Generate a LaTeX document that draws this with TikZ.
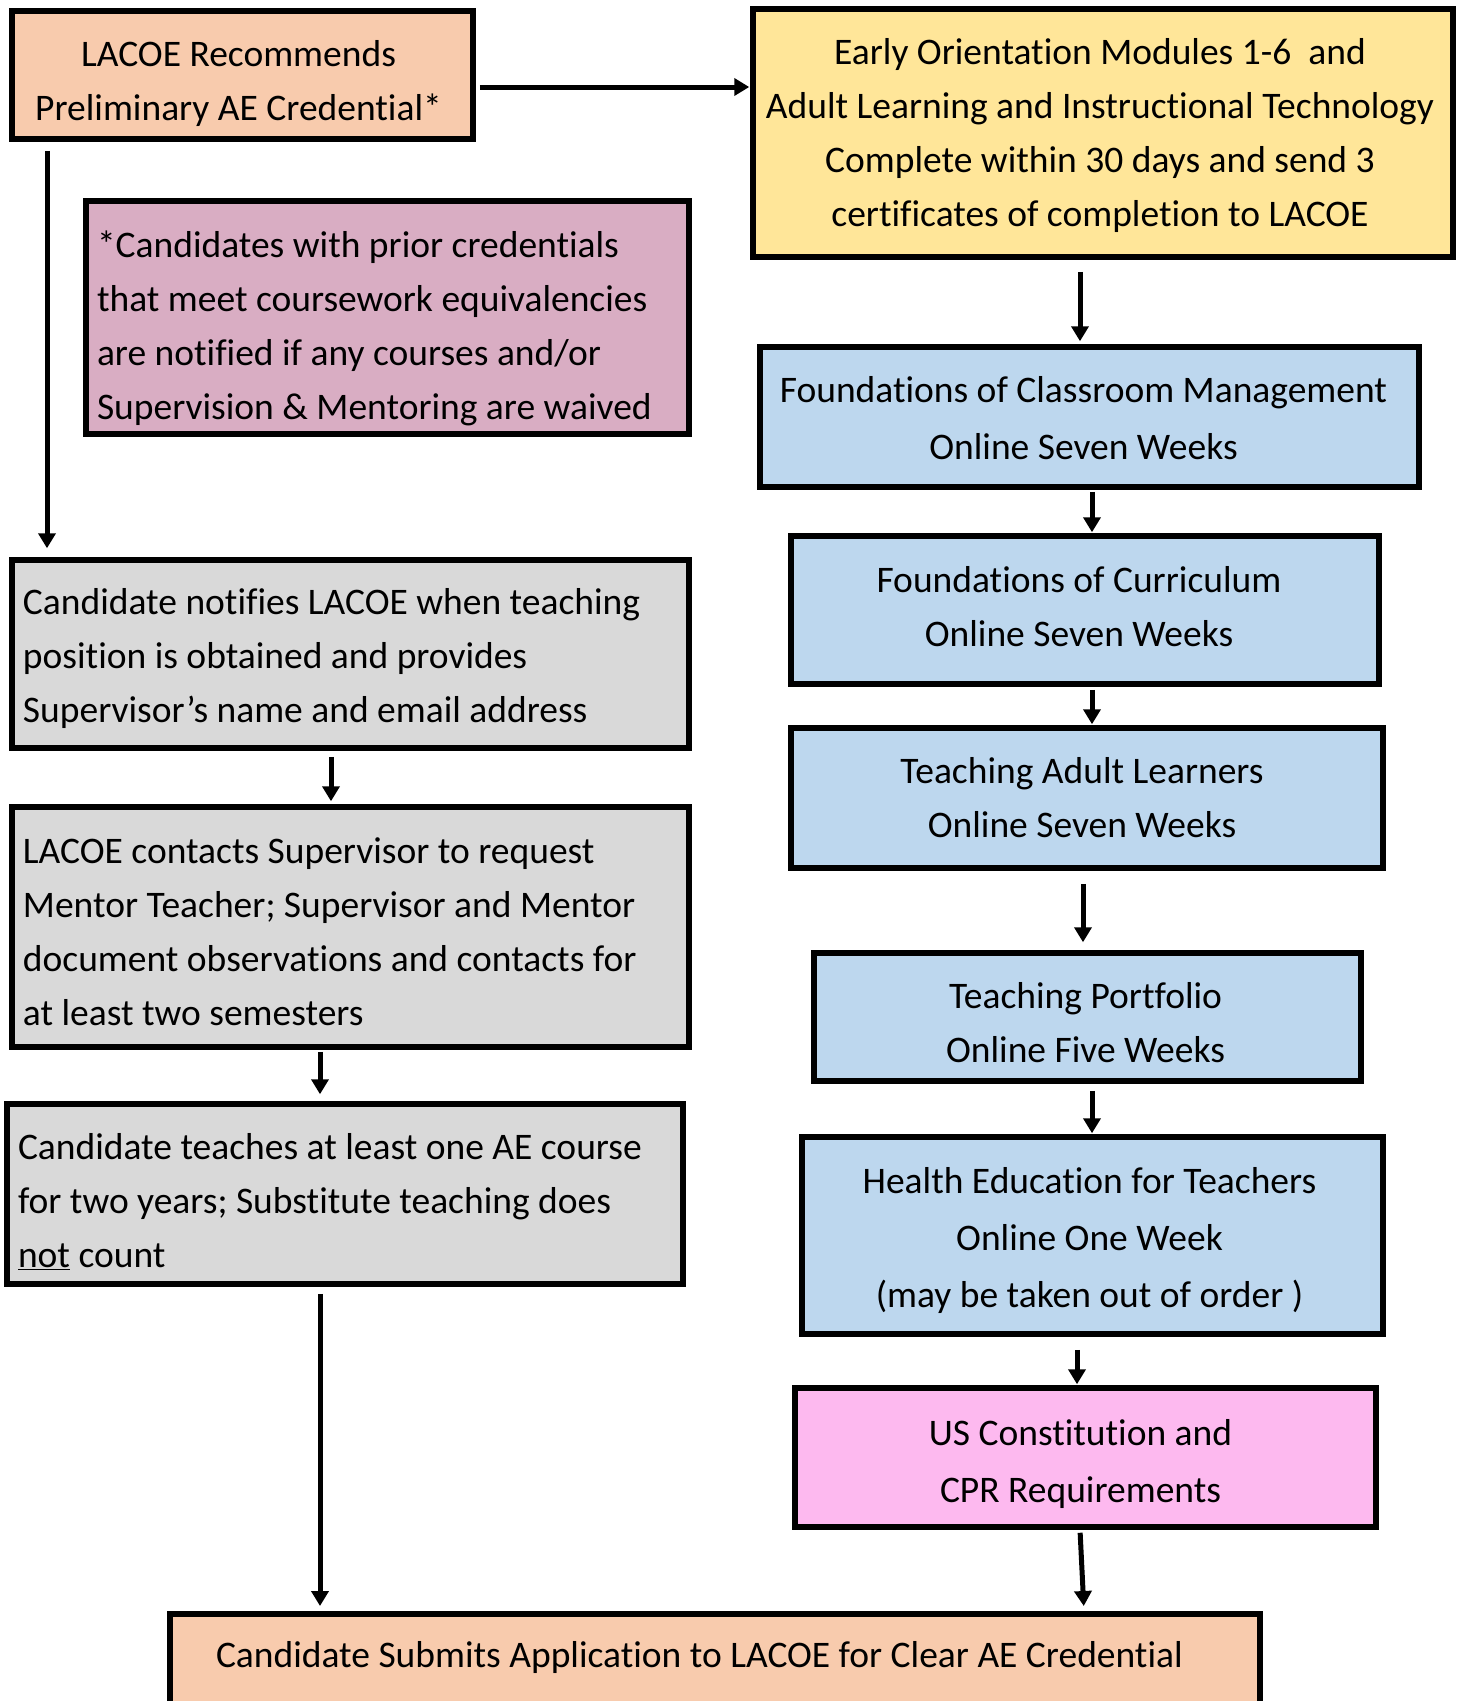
\documentclass[tikz,border=0pt]{standalone}
\usepackage{fontspec}
\setmainfont{Carlito}[Ligatures={NoCommon}]
\usetikzlibrary{arrows.meta}
\definecolor{peach}{HTML}{F8CBAD}
\definecolor{yel}{HTML}{FFE699}
\definecolor{notepink}{RGB}{217,173,195}
\definecolor{grayf}{HTML}{D9D9D9}
\definecolor{bluef}{HTML}{BDD7EE}
\definecolor{pinkf}{HTML}{FDB9EF}
% #1 = shift down (pt), #2 = width of text block (pt), #3 = lines
\newcommand\ltext[3]{\raisebox{-#1pt}[\height][\depth]{\makebox[#2pt][l]{\begin{tabular}{@{}l@{}}#3\end{tabular}}}}
% [#1] = shift left (pt), #2 = shift down (pt), #3 = lines
\newcommand\ctext[3][0]{\raisebox{-#2pt}[\height][\depth]{\kern-#1pt\begin{tabular}{@{}c@{}}#3\end{tabular}\kern#1pt}}
\tikzset{
  box/.style={draw=black, line width=5.5pt, rectangle, inner sep=0pt,
    font=\fontsize{37.5}{54}\selectfont},
  wide/.style={font=\fontsize{37.5}{57}\selectfont},
  arr/.style={draw=black, line width=5pt, -{Triangle[length=15pt,width=17pt]}},
}
\begin{document}
\begin{tikzpicture}[x=1pt,y=-1pt]
\path[use as bounding box] (0,0) rectangle (1460,1701);
\clip (0,0) rectangle (1460,1701);
\fill[white] (0,0) rectangle (1460,1701);

% left column
\node[box, fill=peach, minimum width=461, minimum height=128] (b1) at (242.5,75)
  {\ctext[4]{7.6}{LACOE Recommends\\Preliminary AE Credential*}};
\node[box, fill=notepink, minimum width=603, minimum height=233] (note) at (387.5,317.5)
  {\ltext{9.8}{581}{*Candidates with prior credentials\\that meet coursework equivalencies\\are notified if any courses and/or\\Supervision \& Mentoring are waived}};
\node[box, fill=grayf, minimum width=677, minimum height=188] (b3) at (350.5,654)
  {\ltext{4}{655}{Candidate notifies LACOE when teaching\\position is obtained and provides\\Supervisor’s name and email address}};
\node[box, fill=grayf, minimum width=677, minimum height=240] (b4) at (350.5,927)
  {\ltext{6.8}{655}{LACOE contacts Supervisor to request\\Mentor Teacher; Supervisor and Mentor\\document observations and contacts for\\at least two semesters}};
\node[box, fill=grayf, minimum width=676, minimum height=180] (b5) at (345,1194)
  {\ltext{8.5}{654}{Candidate teaches at least one AE course\\for two years; Substitute teaching does\\\underline{not} count}};

% right column
\node[box, fill=yel, minimum width=700, minimum height=248] (b2) at (1103,133)
  {\ctext[3]{2}{Early Orientation Modules 1-6 \ and\\Adult Learning and Instructional Technology\\Complete within 30 days and send 3\\certificates of completion to LACOE}};
\node[box, wide, fill=bluef, minimum width=659, minimum height=140] (b6) at (1089.5,417)
  {\ctext[6]{3}{Foundations of Classroom Management\\Online Seven Weeks}};
\node[box, fill=bluef, minimum width=588, minimum height=148] (b7) at (1085,610)
  {\ctext[6]{-1}{Foundations of Curriculum\\Online Seven Weeks}};
\node[box, fill=bluef, minimum width=592, minimum height=140] (b8) at (1087,798)
  {\ctext[5]{2}{Teaching Adult Learners\\Online Seven Weeks}};
\node[box, fill=bluef, minimum width=547, minimum height=128] (b9) at (1087.5,1017)
  {\ctext[2]{8}{Teaching Portfolio\\Online Five Weeks}};
\node[box, wide, fill=bluef, minimum width=581, minimum height=197] (b10) at (1092.5,1235.5)
  {\ctext[3]{4}{Health Education for Teachers\\Online One Week\\(may be taken out of order )}};
\node[box, wide, fill=pinkf, minimum width=581, minimum height=139] (b11) at (1085.5,1457.5)
  {\ctext[5]{5}{US Constitution and\\CPR Requirements}};

% final box (runs past the lower edge)
\node[box, fill=peach, minimum width=1090, minimum height=200, anchor=north] (fin) at (715,1611)
  {\ltext{-57}{998}{Candidate Submits Application to LACOE for Clear AE Credential}};

% column coordinates
\coordinate (c47) at (47,0);
\coordinate (c331) at (331,0);
\coordinate (c320) at (320,0);
\coordinate (c1080) at (1080,0);
\coordinate (c1092) at (1092,0);
\coordinate (c1083) at (1083,0);
\coordinate (c1077) at (1077,0);
\coordinate (c1084) at (1084,0);
\coordinate (r87) at (0,87);

% connectors
\draw[arr, shorten <=4pt, shorten >=1pt] (b1.east |- r87) -- (b2.west |- r87);
\draw[arr, shorten <=9pt, shorten >=9pt] (b1.south -| c47) -- (b3.north -| c47);
\draw[arr, shorten <=6pt, shorten >=3pt] (b3.south -| c331) -- (b4.north -| c331);
\draw[arr, shorten <=2pt, shorten >=7pt] (b4.south -| c320) -- (b5.north -| c320);
\draw[arr, shorten <=7pt, shorten >=5pt] (b5.south -| c320) -- (fin.north -| c320);
\draw[arr, shorten <=12pt, shorten >=3pt] (b2.south -| c1080) -- (b6.north -| c1080);
\draw[arr, shorten <=2pt, shorten >=1pt] (b6.south -| c1092) -- (b7.north -| c1092);
\draw[arr, shorten <=3pt, shorten >=1pt] (b7.south -| c1092) -- (b8.north -| c1092);
\draw[arr, shorten <=13pt, shorten >=8pt] (b8.south -| c1083) -- (b9.north -| c1083);
\draw[arr, shorten <=7pt, shorten >=1pt] (b9.south -| c1092) -- (b10.north -| c1092);
\draw[arr, shorten <=13pt, shorten >=1pt] (b10.south -| c1077) -- (b11.north -| c1077);
\draw[arr, shorten <=3pt, shorten >=5pt] (b11.south -| c1080) -- (fin.north -| c1084);
\end{tikzpicture}
\end{document}
